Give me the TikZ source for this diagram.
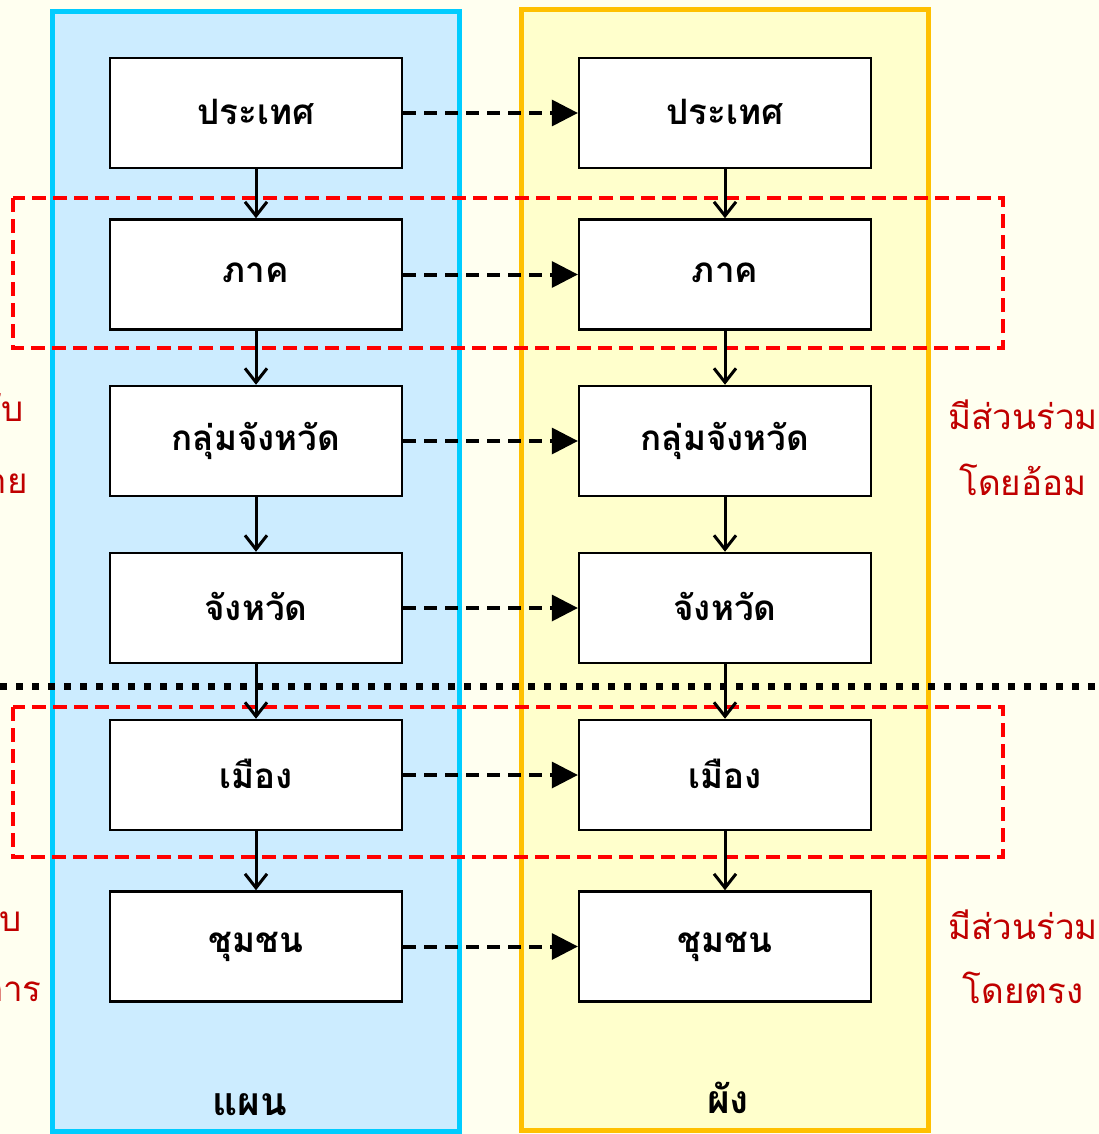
\documentclass[tikz,border=0pt]{standalone}
\usepackage{fontspec}
\newfontfamily\thai[Script=Thai]{Loma}
\usetikzlibrary{arrows.meta}
\definecolor{bg}{HTML}{FFFFF0}
\definecolor{bluefill}{HTML}{CCECFF}
\definecolor{blueline}{HTML}{00CCFF}
\definecolor{yelfill}{HTML}{FFFFCC}
\definecolor{yelline}{HTML}{FFC000}
\definecolor{darkred}{HTML}{C00000}
\tikzset{
  box/.style={draw=black, line width=2.5pt, fill=white, minimum width=292pt, minimum height=110pt, inner sep=0pt,
    font=\thai\bfseries\fontsize{35}{40}\selectfont},
  down/.style={line width=3pt, -{Straight Barb[length=14pt,width=22pt,line width=3pt]}},
  across/.style={line width=4pt, dash pattern=on 13pt off 8pt, -{Triangle[length=26pt,width=27pt,line width=0pt]}},
  zone/.style={draw=red, line width=4pt, dash pattern=on 14pt off 7pt},
  redlabel/.style={text=darkred, inner sep=0pt, font=\thai\fontsize{35}{40}\selectfont},
  collabel/.style={inner sep=0pt, font=\thai\bfseries\fontsize{39}{44}\selectfont}
}
\begin{document}
\begin{tikzpicture}[x=1pt,y=-1pt]
\useasboundingbox (0,0) rectangle (1099,1134);
\clip (0,0) rectangle (1099,1134);
\fill[bg] (0,0) rectangle (1099,1134);
% columns
\draw[fill=bluefill, draw=blueline, line width=5pt] (52,12) rectangle (459,1131);
\draw[fill=yelfill, draw=yelline, line width=5pt] (521,10) rectangle (928,1130);
% zones
\draw[zone] (13,198) rectangle (1003,348);
\draw[zone] (13,707) rectangle (1003,857);
% boxes
\foreach \i/\y/\t in {1/113/ประเทศ, 2/274.5/ภาค, 3/441/กลุ่มจังหวัด, 4/608/จังหวัด, 5/775/เมือง, 6/946.5/ชุมชน}{
  \node[box] (L\i) at (256,\y) {\raisebox{3pt}{\t}};
  \node[box] (R\i) at (725,\y) {\raisebox{3pt}{\t}};
}
% dotted separator
\coordinate (sepL) at (0,686);
\coordinate (sepR) at (1099,686);
\draw[line width=7pt, dash pattern=on 7pt off 9pt] (sepL) -- (sepR);
% arrows
\foreach \i/\j in {1/2,2/3,3/4,4/5,5/6}{
  \draw[down] (L\i.south) -- (L\j.north);
  \draw[down] (R\i.south) -- (R\j.north);
}
\foreach \i in {1,...,6}{
  \draw[across] (L\i.east) -- (R\i.west);
}
% column labels
\node[collabel, anchor=base] (plan) at (250,1115) {แผน};
\node[collabel, anchor=base] (phang) at (728,1113) {ผัง};
% right labels
\node[redlabel, anchor=base] (ind1) at (1023,429) {มีส่วนร่วม};
\node[redlabel, anchor=base] (ind2) at (1023,495) {โดยอ้อม};
\node[redlabel, anchor=base] (dir1) at (1023,939) {มีส่วนร่วม};
\node[redlabel, anchor=base] (dir2) at (1023,1003) {โดยตรง};
% left labels (cut off at the edge, as in the reference)
\node[redlabel, anchor=base east] (pol1) at (24,421) {ระดับ};
\node[redlabel, anchor=base east] (pol2) at (28,493) {นโยบาย};
\node[redlabel, anchor=base east] (op1) at (22,931) {ระดับ};
\node[redlabel, anchor=base east] (op2) at (42,1001) {ปฏิบัติการ};
\end{tikzpicture}
\end{document}
